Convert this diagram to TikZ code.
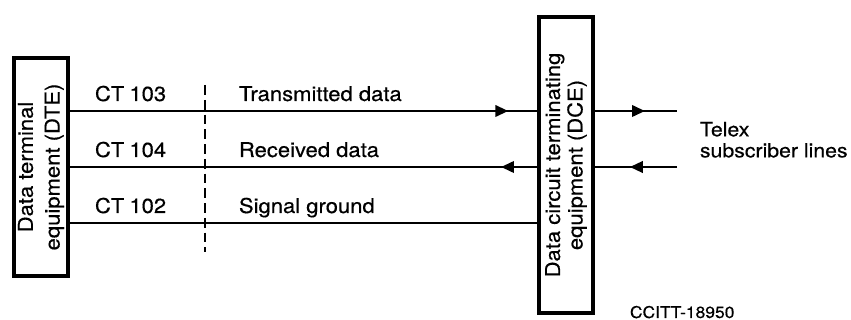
\documentclass[tikz,border=0pt]{standalone}
\usepackage{fontspec}
\setmainfont{TeX Gyre Heros}[FakeStretch=1.08,FakeBold=0.4]
\usetikzlibrary{arrows.meta,decorations.markings}

\begin{document}
\begin{tikzpicture}[x=0.025cm,y=-0.025cm,
    font=\fontsize{14.5}{17}\selectfont,
    unitbox/.style={draw,line width=2.6pt,inner sep=0pt},
    boxtext/.style={rotate=90,align=center,inner sep=0pt},
    wire/.style={line width=1.3pt},
    flow/.style={postaction={decorate},decoration={markings,
        mark=at position #1 with {\arrow{Triangle[length=3.2mm,width=2.9mm]}}}}]
  \useasboundingbox (0,0) rectangle (851,320);
  % equipment boxes
  \node[unitbox,minimum width=1.35cm,minimum height=5.45cm] (dte) at (41,167) {};
  \node[boxtext,font=\fontsize{14.5}{19}\selectfont] (dtelabel) at (dte.center) {Data terminal\\equipment (DTE)};
  \node[unitbox,minimum width=1.35cm,minimum height=7.4cm] (dce) at (566,165) {};
  \node[boxtext,font=\fontsize{14.5}{16}\selectfont] (dcelabel) at (dce.center) {Data circuit terminating\\equipment (DCE)};
  % interchange circuits and their names
  \foreach \y/\ct/\name/\txt in {111/103/tx/Transmitted data,167/104/rx/Received data,223/102/gnd/Signal ground} {
    \coordinate (\name) at (0,\y);
    \node[anchor=base west] (ct\ct) at (90,\y-10) {CT\hspace{0.25em}\ct};
    \node[anchor=base west] (\name label) at (234,\y-10) {\txt};
  }
  \draw[wire,flow=-0.725cm] (dte.east |- tx) -- (dce.west |- tx);
  \draw[wire,flow=0.9cm] (dce.west |- rx) -- (dte.east |- rx);
  \draw[wire] (dte.east |- gnd) -- (dce.west |- gnd);
  % interface boundary
  \coordinate (dtop) at (205,85);
  \coordinate (dbot) at (205,252);
  \draw[line width=1.3pt,dash pattern=on 7pt off 3.5pt] (dtop) -- (dbot);
  % telex side
  \coordinate (txend) at (677,111);
  \coordinate (rxend) at (677,167);
  \draw[wire,flow=1.25cm] (dce.east |- tx) -- (txend);
  \draw[wire,flow=1.175cm] (rxend) -- (dce.east |- rx);
  \node[anchor=north west,align=left,font=\fontsize{14}{14}\selectfont] (telex) at (695,117) {Telex\\[1pt]subscriber lines};
  \node[anchor=base west,font=\fontsize{11.5}{12}\selectfont] (ref) at (625,318) {CCITT-18950};
\end{tikzpicture}
\end{document}
